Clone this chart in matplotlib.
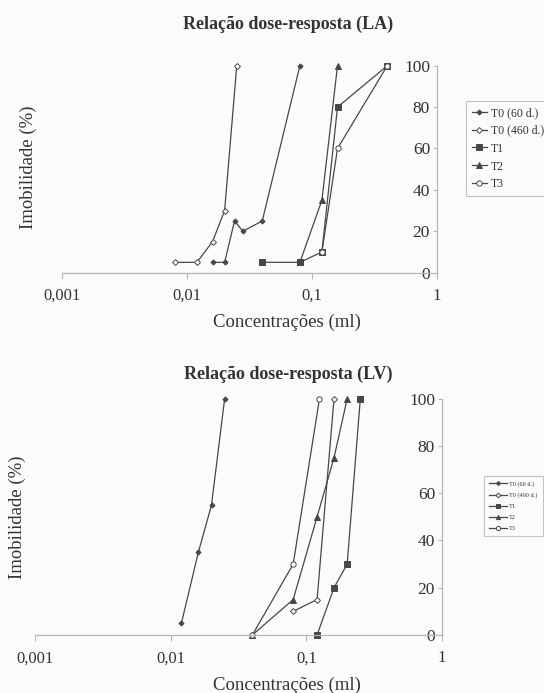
import matplotlib
matplotlib.use("Agg")
import matplotlib.pyplot as plt

plt.rcParams['font.family'] = ['Liberation Serif', 'DejaVu Serif']

names = ["T0 (60 d.)", "T0 (460 d.)", "T1", "T2", "T3"]

# Relação dose-resposta (LA)
la_t0_60_x = [0.016, 0.02, 0.024, 0.028, 0.04, 0.08]
la_t0_60_y = [5, 5, 25, 20, 25, 100]
la_t0_460_x = [0.008, 0.012, 0.016, 0.02, 0.025]
la_t0_460_y = [5, 5, 15, 30, 100]
la_t1_x = [0.04, 0.08, 0.12, 0.16, 0.4]
la_t1_y = [5, 5, 10, 80, 100]
la_t2_x = [0.08, 0.12, 0.16]
la_t2_y = [5, 35, 100]
la_t3_x = [0.12, 0.16, 0.4]
la_t3_y = [10, 60, 100]

# Relação dose-resposta (LV)
lv_t0_60_x = [0.012, 0.016, 0.02, 0.025]
lv_t0_60_y = [5, 35, 55, 100]
lv_t0_460_x = [0.08, 0.12, 0.16]
lv_t0_460_y = [10, 15, 100]
lv_t1_x = [0.12, 0.16, 0.2, 0.25]
lv_t1_y = [0, 20, 30, 100]
lv_t2_x = [0.04, 0.08, 0.12, 0.16, 0.2]
lv_t2_y = [0, 15, 50, 75, 100]
lv_t3_x = [0.04, 0.08, 0.125]
lv_t3_y = [0, 30, 100]

x_ticks = [0.001, 0.01, 0.1, 1]
x_ticklabels = ["0,001", "0,01", "0,1", "1"]
y_ticks = [0, 20, 40, 60, 80, 100]

line_c = '#474747'
text_c = '#333333'
axis_c = '#b5b5b5'
# marker, filled, size
styles = [('D', True, 2.6), ('D', False, 3.0), ('s', True, 3.8), ('^', True, 3.8), ('o', False, 3.8)]

fig = plt.figure(figsize=(5.44, 6.93), dpi=100)
fig.patch.set_facecolor('#fbfbfa')


def draw(ax, data, title, title_xy, xlab_xy, ylab_xy):
    for (xs, ys), name, (m, filled, ms) in zip(data, names, styles):
        ax.plot(xs, ys, color=line_c, lw=0.9, marker=m, ms=ms, clip_on=False,
                mfc=line_c if filled else 'white', mec=line_c, mew=0.7, label=name)
    ax.set_xscale('log')
    ax.set_xlim(0.001, 1)
    ax.set_ylim(0, 100)
    ax.set_facecolor('none')
    ax.spines['top'].set_visible(False)
    ax.spines['right'].set_visible(False)
    ax.spines['left'].set_position(('data', 1))
    for s in ('left', 'bottom'):
        ax.spines[s].set_color(axis_c)
        ax.spines[s].set_linewidth(0.9)
    ax.set_xticks(x_ticks)
    ax.set_xticklabels(x_ticklabels)
    ax.minorticks_off()
    ax.set_yticks(y_ticks)
    ax.tick_params(axis='x', length=4, width=0.8, color=axis_c, pad=7, labelsize=12, labelcolor=text_c)
    ax.tick_params(axis='y', length=3, width=0.8, color=axis_c, pad=2, labelsize=12.5, labelcolor=text_c)
    ax.set_title(title, fontsize=13, fontweight='bold', color=text_c,
                 x=title_xy[0], y=title_xy[1], va='center', pad=0)
    ax.set_xlabel("Concentrações (ml)", fontsize=13.5, color=text_c, va='center')
    ax.xaxis.set_label_coords(*xlab_xy)
    ax.set_ylabel("Imobilidade (%)", fontsize=13.5, color=text_c, va='center')
    ax.yaxis.set_label_coords(*ylab_xy)


ax1 = fig.add_axes([62 / 544, 1 - 272.7 / 693, 375 / 544, 207 / 693])
draw(ax1,
     [(la_t0_60_x, la_t0_60_y), (la_t0_460_x, la_t0_460_y), (la_t1_x, la_t1_y),
      (la_t2_x, la_t2_y), (la_t3_x, la_t3_y)],
     "Relação dose-resposta (LA)", (0.603, 1.20), (0.6, -0.242), (-0.091, 0.51))
leg1 = ax1.legend(loc='upper left', bbox_to_anchor=(460 / 544, 1 - 95 / 693),
                  bbox_transform=fig.transFigure, fontsize=8.5, frameon=True,
                  fancybox=False, handlelength=1.3, handletextpad=0.3,
                  borderpad=0.5, labelspacing=0.5, labelcolor=text_c)
leg1.get_frame().set_edgecolor(axis_c)
leg1.get_frame().set_linewidth(0.8)
leg1.get_frame().set_facecolor('none')

ax2 = fig.add_axes([35 / 544, 1 - 635 / 693, 407 / 544, 236.3 / 693])
draw(ax2,
     [(lv_t0_60_x, lv_t0_60_y), (lv_t0_460_x, lv_t0_460_y), (lv_t1_x, lv_t1_y),
      (lv_t2_x, lv_t2_y), (lv_t3_x, lv_t3_y)],
     "Relação dose-resposta (LV)", (0.622, 1.102), (0.619, -0.212), (-0.044, 0.50))
leg2 = ax2.legend(loc='upper left', bbox_to_anchor=(481 / 544, 1 - 473 / 693),
                  bbox_transform=fig.transFigure, fontsize=4.5, frameon=True,
                  fancybox=False, handlelength=2.8, handletextpad=0.4,
                  borderpad=0.8, labelspacing=0.9, markerscale=0.8, labelcolor=text_c)
leg2.get_frame().set_edgecolor(axis_c)
leg2.get_frame().set_linewidth(0.8)
leg2.get_frame().set_facecolor('none')

fig.savefig('out.png', dpi=100, facecolor=fig.get_facecolor())
